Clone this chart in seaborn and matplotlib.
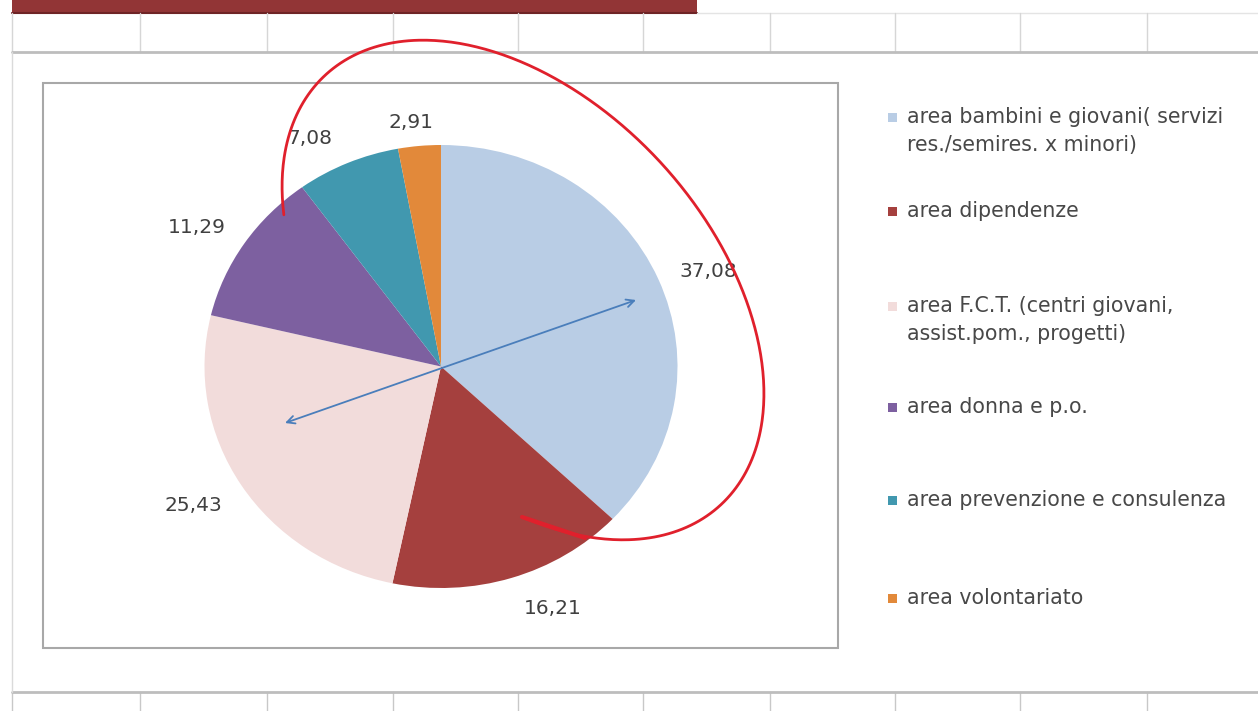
import matplotlib
matplotlib.use("Agg")
import matplotlib.pyplot as plt
from matplotlib.patches import Rectangle
import numpy as np
import seaborn as sns

# --- data -------------------------------------------------------------
categories = [
    "area bambini e giovani( servizi\nres./semires. x minori)",
    "area dipendenze",
    "area F.C.T. (centri giovani,\nassist.pom., progetti)",
    "area donna e p.o.",
    "area prevenzione e consulenza",
    "area volontariato",
]
values = [37.08, 16.21, 25.43, 11.29, 7.08, 2.91]
colors = ["#B9CDE5", "#A5403E", "#F2DCDB", "#7D60A0", "#4198AF", "#E2893A"]

# --- style ------------------------------------------------------------
sns.set_theme(style="white")
plt.rcParams["font.family"] = ["DejaVu Sans"]

W, H = 1258, 711
fig = plt.figure(figsize=(W / 100, H / 100), dpi=100)
fig.patch.set_facecolor("white")

# sheet background (pixel coordinates, y downwards)
bg = fig.add_axes([0, 0, 1, 1])
bg.set_xlim(0, W)
bg.set_ylim(H, 0)
bg.axis("off")
bg.set_zorder(0)

col_x = [12, 140, 267, 393, 518, 643, 770, 895, 1020, 1147]
bg.add_patch(Rectangle((12, 0), 685, 13, color="#923536", lw=0))
bg.plot([12, 697], [13, 13], color="#6E2426", lw=1.5)
bg.plot([697, W], [13, 13], color="#E4E4E4", lw=1)
for x in col_x:
    bg.plot([x, x], [13, 52], color="#D6D6D6", lw=1)
    bg.plot([x, x], [692, H], color="#C8C8C8", lw=1)
bg.plot([12, W], [52, 52], color="#BDBDBD", lw=2)
bg.plot([12, W], [692, 692], color="#BDBDBD", lw=2)
bg.plot([12, 12], [52, 692], color="#DADADA", lw=1)
bg.add_patch(Rectangle((43, 83), 795, 565, fill=False, ec="#A8A8A8", lw=1.5))

# --- pie ---------------------------------------------------------------
cx, cy, rx, ry = 441, 366.5, 236.5, 221.5
lim = 1.25
ax = fig.add_axes([(cx - lim * rx) / W, (H - (cy + lim * ry)) / H,
                   2 * lim * rx / W, 2 * lim * ry / H])
ax.set_zorder(1)
ax.patch.set_visible(False)
wedges, _ = ax.pie(values, colors=colors, startangle=90, counterclock=False,
                   wedgeprops=dict(linewidth=0))
ax.set_aspect("auto")
ax.set_xlim(-lim, lim)
ax.set_ylim(-lim, lim)
ax.axis("off")

# outside labels: radial distance and a small angular nudge per slice
label_radius = [1.21, 1.19, 1.22, 1.21, 1.17, 1.11]
label_nudge = [-2.5, 6.0, -1.4, 2.5, 5.0, 1.4]
for w, v, r, dn in zip(wedges, values, label_radius, label_nudge):
    ang = np.deg2rad((w.theta1 + w.theta2) / 2 + dn)
    ax.text(r * np.cos(ang), r * np.sin(ang), f"{v:.2f}".replace(".", ","),
            ha="center", va="center", fontsize=14.5, color="#404040")

# --- legend and pen marks ----------------------------------------------
ov = fig.add_axes([0, 0, 1, 1])
ov.set_xlim(0, W)
ov.set_ylim(H, 0)
ov.axis("off")
ov.set_zorder(2)
ov.patch.set_visible(False)

legend_y = [117, 211, 306, 407, 500, 598]
for lab, c, y in zip(categories, colors, legend_y):
    ov.add_patch(Rectangle((888, y - 4.5), 9, 9, color=c, lw=0))
    for i, line in enumerate(lab.split("\n")):
        ov.text(907, y + 28 * i, line, ha="left", va="center",
                fontsize=14.8, color="#484848")

# red hand-drawn loop
t = np.deg2rad(np.linspace(138, 414.5, 400))
a, b, phi = 292, 187.6, np.deg2rad(47.5)
ex = 523 + a * np.cos(t) * np.cos(phi) - b * np.sin(t) * np.sin(phi)
ey = 290 + a * np.cos(t) * np.sin(phi) + b * np.sin(t) * np.cos(phi)
ov.plot(ex, ey, color="#E0202C", lw=2, solid_capstyle="round")
ov.plot([522, 585], [517, 538], color="#E0202C", lw=3, solid_capstyle="round")

# blue double arrow across the pie
ov.annotate("", xy=(285, 423), xytext=(636, 300),
            arrowprops=dict(arrowstyle="<->", color="#4A7EBB", lw=1.3,
                            mutation_scale=14, shrinkA=0, shrinkB=0))

fig.savefig("out.png", dpi=100)
